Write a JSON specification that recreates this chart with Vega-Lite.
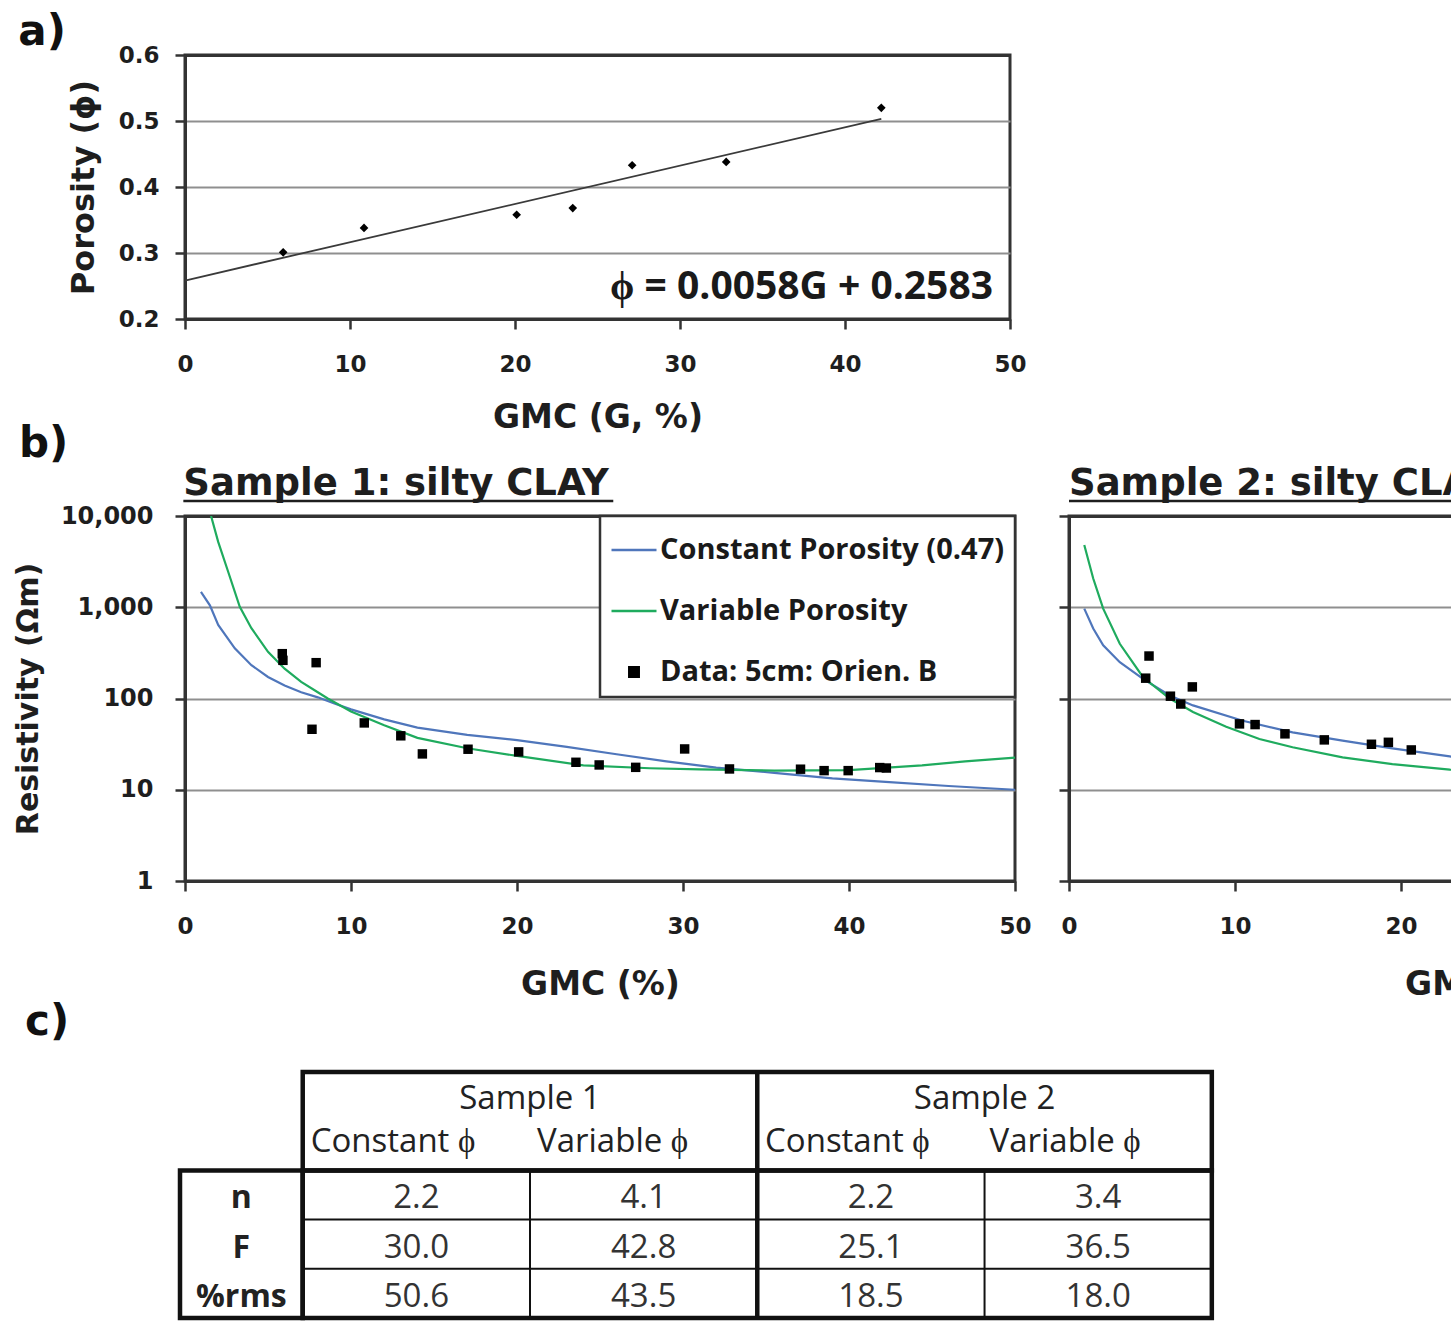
{
  "$schema": "https://vega.github.io/schema/vega-lite/v6.json",
  "background": "white",
  "padding": {"left": 11, "top": 9, "right": 0, "bottom": 0},
  "bounds": "flush",
  "columns": 2,
  "spacing": {"row": 197, "column": 54},
  "resolve": {"scale": {"color": "independent", "shape": "independent"}},
  "config": {
    "view": {"stroke": null},
    "font": "DejaVu Sans",
    "axis": {
      "labelFont": "DejaVu Sans", "labelFontWeight": "bold", "labelFontSize": 23, "labelColor": "#1e1e1e",
      "titleFont": "DejaVu Sans", "titleFontWeight": "bold", "titleFontSize": 33, "titleColor": "#1e1e1e",
      "domainColor": "#333333", "domainWidth": 3, "tickColor": "#333333", "tickWidth": 2.5, "tickSize": 10,
      "gridColor": "#8f8f8f", "gridWidth": 2, "labelFlush": false, "labelOverlap": false
    },
    "legend": {
      "orient": "top-right", "offset": 0, "padding": 10, "strokeColor": "#333333", "strokeWidth": 2.5,
      "fillColor": "white", "labelFont": "Open Sans", "labelFontWeight": "bold", "labelFontSize": 29,
      "labelColor": "#1a1a1a", "labelLimit": 600, "labelOffset": 2, "rowPadding": 22, "symbolStrokeWidth": 2.5,
      "symbolOpacity": 1, "symbolSize": 2025
    }
  },
  "datasets": {
    "poro": [
      {"G": 5.95, "phi": 0.301}, {"G": 10.85, "phi": 0.338}, {"G": 20.1, "phi": 0.358},
      {"G": 23.5, "phi": 0.368}, {"G": 27.1, "phi": 0.433}, {"G": 32.8, "phi": 0.438}, {"G": 42.2, "phi": 0.520}
    ],
    "fit": [{"G": 0, "phi": 0.2583}, {"G": 42.2, "phi": 0.5031}],
    "s1curves": [
      {"series": "Constant Porosity (0.47)", "G": 0.96, "R": 1470},
      {"series": "Constant Porosity (0.47)", "G": 1.5, "R": 1050},
      {"series": "Constant Porosity (0.47)", "G": 2, "R": 640},
      {"series": "Constant Porosity (0.47)", "G": 3, "R": 355},
      {"series": "Constant Porosity (0.47)", "G": 4, "R": 232},
      {"series": "Constant Porosity (0.47)", "G": 5, "R": 172},
      {"series": "Constant Porosity (0.47)", "G": 6, "R": 139},
      {"series": "Constant Porosity (0.47)", "G": 7, "R": 117},
      {"series": "Constant Porosity (0.47)", "G": 8, "R": 103},
      {"series": "Constant Porosity (0.47)", "G": 9, "R": 88},
      {"series": "Constant Porosity (0.47)", "G": 10, "R": 76},
      {"series": "Constant Porosity (0.47)", "G": 12, "R": 59},
      {"series": "Constant Porosity (0.47)", "G": 14, "R": 48},
      {"series": "Constant Porosity (0.47)", "G": 17, "R": 40},
      {"series": "Constant Porosity (0.47)", "G": 20, "R": 35},
      {"series": "Constant Porosity (0.47)", "G": 23, "R": 29.5},
      {"series": "Constant Porosity (0.47)", "G": 26, "R": 24.5},
      {"series": "Constant Porosity (0.47)", "G": 29, "R": 20.5},
      {"series": "Constant Porosity (0.47)", "G": 32, "R": 17.5},
      {"series": "Constant Porosity (0.47)", "G": 35.5, "R": 15.3},
      {"series": "Constant Porosity (0.47)", "G": 39, "R": 13.3},
      {"series": "Constant Porosity (0.47)", "G": 42.2, "R": 12.2},
      {"series": "Constant Porosity (0.47)", "G": 46, "R": 11},
      {"series": "Constant Porosity (0.47)", "G": 50, "R": 10},
      {"series": "Variable Porosity", "G": 1.57, "R": 10000},
      {"series": "Variable Porosity", "G": 2, "R": 5200},
      {"series": "Variable Porosity", "G": 2.6, "R": 2450},
      {"series": "Variable Porosity", "G": 3.3, "R": 1010},
      {"series": "Variable Porosity", "G": 4, "R": 590},
      {"series": "Variable Porosity", "G": 5, "R": 325},
      {"series": "Variable Porosity", "G": 6, "R": 212},
      {"series": "Variable Porosity", "G": 7, "R": 152},
      {"series": "Variable Porosity", "G": 8, "R": 117},
      {"series": "Variable Porosity", "G": 8.6, "R": 100},
      {"series": "Variable Porosity", "G": 10, "R": 72},
      {"series": "Variable Porosity", "G": 12, "R": 51},
      {"series": "Variable Porosity", "G": 14, "R": 37},
      {"series": "Variable Porosity", "G": 17, "R": 28.5},
      {"series": "Variable Porosity", "G": 20, "R": 23.5},
      {"series": "Variable Porosity", "G": 24, "R": 18.5},
      {"series": "Variable Porosity", "G": 28, "R": 17.2},
      {"series": "Variable Porosity", "G": 31, "R": 16.7},
      {"series": "Variable Porosity", "G": 35.5, "R": 16.2},
      {"series": "Variable Porosity", "G": 40, "R": 16.4},
      {"series": "Variable Porosity", "G": 44.4, "R": 18.5},
      {"series": "Variable Porosity", "G": 47, "R": 20.5},
      {"series": "Variable Porosity", "G": 50, "R": 22.5}
    ],
    "s1data": [
      {"series": "Data: 5cm: Orien. B", "G": 5.86, "R": 310},
      {"series": "Data: 5cm: Orien. B", "G": 5.9, "R": 262},
      {"series": "Data: 5cm: Orien. B", "G": 7.9, "R": 247},
      {"series": "Data: 5cm: Orien. B", "G": 7.65, "R": 46},
      {"series": "Data: 5cm: Orien. B", "G": 10.8, "R": 54},
      {"series": "Data: 5cm: Orien. B", "G": 13.0, "R": 39},
      {"series": "Data: 5cm: Orien. B", "G": 14.3, "R": 24.7},
      {"series": "Data: 5cm: Orien. B", "G": 17.05, "R": 27.8},
      {"series": "Data: 5cm: Orien. B", "G": 20.1, "R": 26},
      {"series": "Data: 5cm: Orien. B", "G": 23.55, "R": 20},
      {"series": "Data: 5cm: Orien. B", "G": 24.95, "R": 18.7},
      {"series": "Data: 5cm: Orien. B", "G": 27.15, "R": 17.6},
      {"series": "Data: 5cm: Orien. B", "G": 30.1, "R": 28},
      {"series": "Data: 5cm: Orien. B", "G": 32.8, "R": 16.9},
      {"series": "Data: 5cm: Orien. B", "G": 37.08, "R": 16.8},
      {"series": "Data: 5cm: Orien. B", "G": 38.5, "R": 16.2},
      {"series": "Data: 5cm: Orien. B", "G": 39.95, "R": 16.2},
      {"series": "Data: 5cm: Orien. B", "G": 41.85, "R": 17.5},
      {"series": "Data: 5cm: Orien. B", "G": 42.25, "R": 17.3}
    ],
    "s2curves": [
      {"series": "Constant Porosity", "G": 0.92, "R": 966},
      {"series": "Constant Porosity", "G": 1.46, "R": 584},
      {"series": "Constant Porosity", "G": 2.06, "R": 382},
      {"series": "Constant Porosity", "G": 3.06, "R": 250},
      {"series": "Constant Porosity", "G": 4.46, "R": 164},
      {"series": "Constant Porosity", "G": 6.07, "R": 108},
      {"series": "Constant Porosity", "G": 7.47, "R": 84},
      {"series": "Constant Porosity", "G": 10.47, "R": 57},
      {"series": "Constant Porosity", "G": 13.47, "R": 42.6},
      {"series": "Constant Porosity", "G": 16.48, "R": 34.5},
      {"series": "Constant Porosity", "G": 19.48, "R": 28.4},
      {"series": "Constant Porosity", "G": 22.94, "R": 23.2},
      {"series": "Constant Porosity", "G": 24, "R": 22},
      {"series": "Variable Porosity", "G": 0.92, "R": 4800},
      {"series": "Variable Porosity", "G": 1.46, "R": 2065},
      {"series": "Variable Porosity", "G": 2.06, "R": 966},
      {"series": "Variable Porosity", "G": 3.06, "R": 398},
      {"series": "Variable Porosity", "G": 4.46, "R": 171},
      {"series": "Variable Porosity", "G": 6.07, "R": 100},
      {"series": "Variable Porosity", "G": 7.47, "R": 71},
      {"series": "Variable Porosity", "G": 9.47, "R": 49},
      {"series": "Variable Porosity", "G": 11.47, "R": 36},
      {"series": "Variable Porosity", "G": 13.47, "R": 29.2},
      {"series": "Variable Porosity", "G": 16.48, "R": 22.6},
      {"series": "Variable Porosity", "G": 19.48, "R": 19.1},
      {"series": "Variable Porosity", "G": 22.94, "R": 16.6},
      {"series": "Variable Porosity", "G": 24, "R": 16.2}
    ],
    "s2data": [
      {"G": 4.82, "R": 292}, {"G": 4.62, "R": 167}, {"G": 6.11, "R": 106}, {"G": 6.73, "R": 87},
      {"G": 7.43, "R": 134}, {"G": 10.27, "R": 52.7}, {"G": 11.21, "R": 51.8}, {"G": 13.01, "R": 41},
      {"G": 15.38, "R": 35.2}, {"G": 18.22, "R": 31.5}, {"G": 19.24, "R": 33.1}, {"G": 20.62, "R": 27.3}
    ],
    "tframe": [
      {"part": "header", "x0": 0, "x1": 4, "y0": 0, "y1": 2},
      {"part": "row labels", "x0": -0.54, "x1": 0, "y0": 2, "y1": 5},
      {"part": "body", "x0": 0, "x1": 4, "y0": 2, "y1": 5}
    ],
    "tdiv": [{"part": "sample divider", "x0": 2, "x1": 2, "y0": 0, "y1": 5}],
    "tthin": [
      {"x0": 0, "x1": 4, "y0": 3, "y1": 3},
      {"x0": 0, "x1": 4, "y0": 4, "y1": 4},
      {"x0": 1, "x1": 1, "y0": 2, "y1": 5},
      {"x0": 3, "x1": 3, "y0": 2, "y1": 5}
    ],
    "theads": [
      {"label": "Sample 1", "cx": 1, "cy": 0.55},
      {"label": "Sample 2", "cx": 3, "cy": 0.55}
    ],
    "tsub": [
      {"label": "Constant ϕ", "lx": 0.035, "cy": 1.42},
      {"label": "Variable ϕ", "lx": 1.031, "cy": 1.42},
      {"label": "Constant ϕ", "lx": 2.034, "cy": 1.42},
      {"label": "Variable ϕ", "lx": 3.022, "cy": 1.42}
    ],
    "trows": [
      {"label": "n", "cy": 2.57}, {"label": "F", "cy": 3.57}, {"label": "%rms", "cy": 4.57}
    ],
    "tvals": [
      {"sample": "Sample 1", "method": "Constant", "param": "n", "value": "2.2", "cx": 0.5, "cy": 2.57},
      {"sample": "Sample 1", "method": "Constant", "param": "F", "value": "30.0", "cx": 0.5, "cy": 3.57},
      {"sample": "Sample 1", "method": "Constant", "param": "%rms", "value": "50.6", "cx": 0.5, "cy": 4.57},
      {"sample": "Sample 1", "method": "Variable", "param": "n", "value": "4.1", "cx": 1.5, "cy": 2.57},
      {"sample": "Sample 1", "method": "Variable", "param": "F", "value": "42.8", "cx": 1.5, "cy": 3.57},
      {"sample": "Sample 1", "method": "Variable", "param": "%rms", "value": "43.5", "cx": 1.5, "cy": 4.57},
      {"sample": "Sample 2", "method": "Constant", "param": "n", "value": "2.2", "cx": 2.5, "cy": 2.57},
      {"sample": "Sample 2", "method": "Constant", "param": "F", "value": "25.1", "cx": 2.5, "cy": 3.57},
      {"sample": "Sample 2", "method": "Constant", "param": "%rms", "value": "18.5", "cx": 2.5, "cy": 4.57},
      {"sample": "Sample 2", "method": "Variable", "param": "n", "value": "3.4", "cx": 3.5, "cy": 2.57},
      {"sample": "Sample 2", "method": "Variable", "param": "F", "value": "36.5", "cx": 3.5, "cy": 3.57},
      {"sample": "Sample 2", "method": "Variable", "param": "%rms", "value": "18.0", "cx": 3.5, "cy": 4.57}
    ]
  },
  "concat": [
    {
      "width": 825, "height": 264,
      "view": {"stroke": "#333333", "strokeWidth": 3},
      "encoding": {
        "x": {"type": "quantitative", "scale": {"domain": [0, 50]},
              "axis": {"values": [0, 10, 20, 30, 40, 50], "title": "GMC (G, %)", "grid": false, "labelPadding": 24, "titlePadding": 25}},
        "y": {"type": "quantitative", "scale": {"domain": [0.2, 0.6]},
              "axis": {"values": [0.2, 0.3, 0.4, 0.5, 0.6], "format": ".1f", "title": "Porosity (ϕ)", "titleFontSize": 32,
                       "grid": true, "labelPadding": 16, "titlePadding": 18,
                       "gridColor": {"condition": {"test": "datum.value >= 0.599 || datum.value <= 0.201", "value": "#333333"}, "value": "#8f8f8f"},
                       "gridWidth": {"condition": {"test": "datum.value >= 0.599 || datum.value <= 0.201", "value": 3}, "value": 2}}}
      },
      "layer": [
        {
          "data": {"name": "fit"},
          "mark": {"type": "line", "color": "#3a3a3a", "strokeWidth": 1.8},
          "encoding": {"x": {"field": "G"}, "y": {"field": "phi"}}
        },
        {
          "data": {"name": "poro"},
          "mark": {"type": "point", "shape": "diamond", "filled": true, "size": 75, "color": "black", "opacity": 1},
          "encoding": {"x": {"field": "G"}, "y": {"field": "phi"}}
        },
        {
          "data": {"values": [{"label": "ϕ = 0.0058G + 0.2583"}]},
          "mark": {"type": "text", "align": "right", "baseline": "middle", "font": "Open Sans", "fontWeight": "bold", "fontSize": 39, "color": "#1a1a1a"},
          "encoding": {"x": {"datum": 48.97}, "y": {"datum": 0.2485}, "text": {"field": "label"}}
        },
        {
          "data": {"values": [{"label": "a)"}]},
          "mark": {"type": "text", "align": "left", "baseline": "alphabetic", "font": "DejaVu Sans", "fontWeight": "bold", "fontSize": 42, "color": "#111111"},
          "encoding": {"x": {"datum": -10.1}, "y": {"datum": 0.615}, "text": {"field": "label"}}
        }
      ]
    },
    {
      "width": 10, "height": 10,
      "data": {"values": [{"blank": 1}]},
      "mark": {"type": "point", "opacity": 0},
      "encoding": {}
    },
    {
      "width": 830, "height": 365,
      "view": {"stroke": "#333333", "strokeWidth": 3},
      "encoding": {
        "x": {"type": "quantitative", "scale": {"domain": [0, 50]},
              "axis": {"values": [0, 10, 20, 30, 40, 50], "title": "GMC (%)", "grid": false, "labelPadding": 24, "titlePadding": 30}},
        "y": {"type": "quantitative", "scale": {"type": "log", "domain": [1, 10000]},
              "axis": {"values": [1, 10, 100, 1000, 10000], "format": ",", "title": "Resistivity (Ωm)", "titleFontSize": 30, "labelFontSize": 24,
                       "grid": true, "labelPadding": 22, "titlePadding": 17,
                       "gridColor": {"condition": {"test": "datum.value >= 9999 || datum.value <= 1.001", "value": "#333333"}, "value": "#8f8f8f"},
                       "gridWidth": {"condition": {"test": "datum.value >= 9999 || datum.value <= 1.001", "value": 3}, "value": 2}}}
      },
      "layer": [
        {
          "data": {"name": "s1curves"},
          "mark": {"type": "line", "strokeWidth": 2.2, "clip": true},
          "encoding": {
            "x": {"field": "G"}, "y": {"field": "R"},
            "color": {"field": "series", "type": "nominal", "title": null,
                      "scale": {"domain": ["Constant Porosity (0.47)", "Variable Porosity", "Data: 5cm: Orien. B"], "range": ["#4f76bb", "#1fab5e", "#000000"]},
                      "legend": {"title": null}}
          }
        },
        {
          "data": {"name": "s1data"},
          "mark": {"type": "point", "filled": true, "opacity": 1, "size": 2025},
          "encoding": {
            "x": {"field": "G"}, "y": {"field": "R"},
            "color": {"field": "series", "type": "nominal", "title": null,
                      "scale": {"domain": ["Constant Porosity (0.47)", "Variable Porosity", "Data: 5cm: Orien. B"], "range": ["#4f76bb", "#1fab5e", "#000000"]},
                      "legend": {"title": null}},
            "shape": {"field": "series", "type": "nominal", "title": null,
                      "scale": {"domain": ["Constant Porosity (0.47)", "Variable Porosity", "Data: 5cm: Orien. B"], "range": ["stroke", "stroke", "M-0.21,-0.21H0.21V0.21H-0.21Z"]},
                      "legend": {"title": null}}
          }
        },
        {
          "data": {"values": [{"label": "b)"}]},
          "mark": {"type": "text", "align": "left", "baseline": "alphabetic", "font": "DejaVu Sans", "fontWeight": "bold", "fontSize": 42, "color": "#111111"},
          "encoding": {"x": {"datum": -10.0}, "y": {"datum": 44300}, "text": {"field": "label"}}
        },
        {
          "data": {"values": [{"label": "Sample 1: silty CLAY"}]},
          "mark": {"type": "text", "align": "left", "baseline": "alphabetic", "font": "DejaVu Sans", "fontWeight": "bold", "fontSize": 37, "color": "#1e1e1e"},
          "encoding": {"x": {"datum": -0.1}, "y": {"datum": 16990}, "text": {"field": "label"}}
        },
        {
          "data": {"values": [{"label": "underline"}]},
          "mark": {"type": "rule", "color": "#1e1e1e", "strokeWidth": 2.5},
          "encoding": {"x": {"datum": -0.1}, "x2": {"datum": 25.8}, "y": {"datum": 14600}}
        }
      ]
    },
    {
      "width": 830, "height": 365,
      "view": {"stroke": "#333333", "strokeWidth": 3},
      "encoding": {
        "x": {"type": "quantitative", "scale": {"domain": [0, 50]},
              "axis": {"values": [0, 10, 20, 30, 40, 50], "title": "GMC (%)", "grid": false, "labelPadding": 24, "titlePadding": 30}},
        "y": {"type": "quantitative", "scale": {"type": "log", "domain": [1, 10000]},
              "axis": {"values": [1, 10, 100, 1000, 10000], "labels": false, "title": null, "grid": true,
                       "gridColor": {"condition": {"test": "datum.value >= 9999 || datum.value <= 1.001", "value": "#333333"}, "value": "#8f8f8f"},
                       "gridWidth": {"condition": {"test": "datum.value >= 9999 || datum.value <= 1.001", "value": 3}, "value": 2}}}
      },
      "layer": [
        {
          "data": {"name": "s2curves"},
          "mark": {"type": "line", "strokeWidth": 2.2, "clip": true},
          "encoding": {
            "x": {"field": "G"}, "y": {"field": "R"},
            "color": {"field": "series", "type": "nominal",
                      "scale": {"domain": ["Constant Porosity", "Variable Porosity"], "range": ["#4f76bb", "#1fab5e"]},
                      "legend": null}
          }
        },
        {
          "data": {"name": "s2data"},
          "mark": {"type": "point", "shape": "square", "filled": true, "size": 90, "color": "black", "opacity": 1},
          "encoding": {"x": {"field": "G"}, "y": {"field": "R"}}
        },
        {
          "data": {"values": [{"label": "Sample 2: silty CLAY"}]},
          "mark": {"type": "text", "align": "left", "baseline": "alphabetic", "font": "DejaVu Sans", "fontWeight": "bold", "fontSize": 37, "color": "#1e1e1e"},
          "encoding": {"x": {"datum": 0}, "y": {"datum": 16990}, "text": {"field": "label"}}
        },
        {
          "data": {"values": [{"label": "underline"}]},
          "mark": {"type": "rule", "color": "#1e1e1e", "strokeWidth": 2.5},
          "encoding": {"x": {"datum": 0}, "x2": {"datum": 25.9}, "y": {"datum": 14600}}
        }
      ]
    },
    {
      "width": 830, "height": 246,
      "encoding": {
        "x": {"type": "quantitative", "scale": {"domain": [-0.518, 3.134]}, "axis": null},
        "y": {"type": "quantitative", "scale": {"domain": [0.122, 5.122], "reverse": true}, "axis": null}
      },
      "layer": [
        {
          "data": {"name": "tthin"},
          "mark": {"type": "rule", "color": "#111111", "strokeWidth": 2},
          "encoding": {"x": {"field": "x0"}, "x2": {"field": "x1"}, "y": {"field": "y0"}, "y2": {"field": "y1"}}
        },
        {
          "data": {"name": "tframe"},
          "mark": {"type": "rect", "filled": false, "stroke": "#111111", "strokeWidth": 4.5},
          "encoding": {"x": {"field": "x0"}, "x2": {"field": "x1"}, "y": {"field": "y0"}, "y2": {"field": "y1"}}
        },
        {
          "data": {"name": "tdiv"},
          "mark": {"type": "rule", "color": "#111111", "strokeWidth": 4.5},
          "encoding": {"x": {"field": "x0"}, "y": {"field": "y0"}, "y2": {"field": "y1"}}
        },
        {
          "data": {"name": "theads"},
          "mark": {"type": "text", "align": "center", "baseline": "middle", "font": "Open Sans", "fontSize": 33, "color": "#222222"},
          "encoding": {"x": {"field": "cx"}, "y": {"field": "cy"}, "text": {"field": "label"}}
        },
        {
          "data": {"name": "tsub"},
          "mark": {"type": "text", "align": "left", "baseline": "middle", "font": "Open Sans", "fontSize": 33, "color": "#222222"},
          "encoding": {"x": {"field": "lx"}, "y": {"field": "cy"}, "text": {"field": "label"}}
        },
        {
          "data": {"name": "trows"},
          "mark": {"type": "text", "align": "center", "baseline": "middle", "font": "Open Sans", "fontWeight": "bold", "fontSize": 32, "color": "#222222"},
          "encoding": {"x": {"datum": -0.27}, "y": {"field": "cy"}, "text": {"field": "label"}}
        },
        {
          "data": {"name": "tvals"},
          "mark": {"type": "text", "align": "center", "baseline": "middle", "font": "Open Sans", "fontSize": 33, "color": "#333333"},
          "encoding": {"x": {"field": "cx"}, "y": {"field": "cy"}, "text": {"field": "value"}}
        },
        {
          "data": {"values": [{"label": "c)"}]},
          "mark": {"type": "text", "align": "left", "baseline": "alphabetic", "font": "DejaVu Sans", "fontWeight": "bold", "fontSize": 42, "color": "#111111"},
          "encoding": {"x": {"datum": -1.222}, "y": {"datum": -0.752}, "text": {"field": "label"}}
        }
      ]
    }
  ]
}
